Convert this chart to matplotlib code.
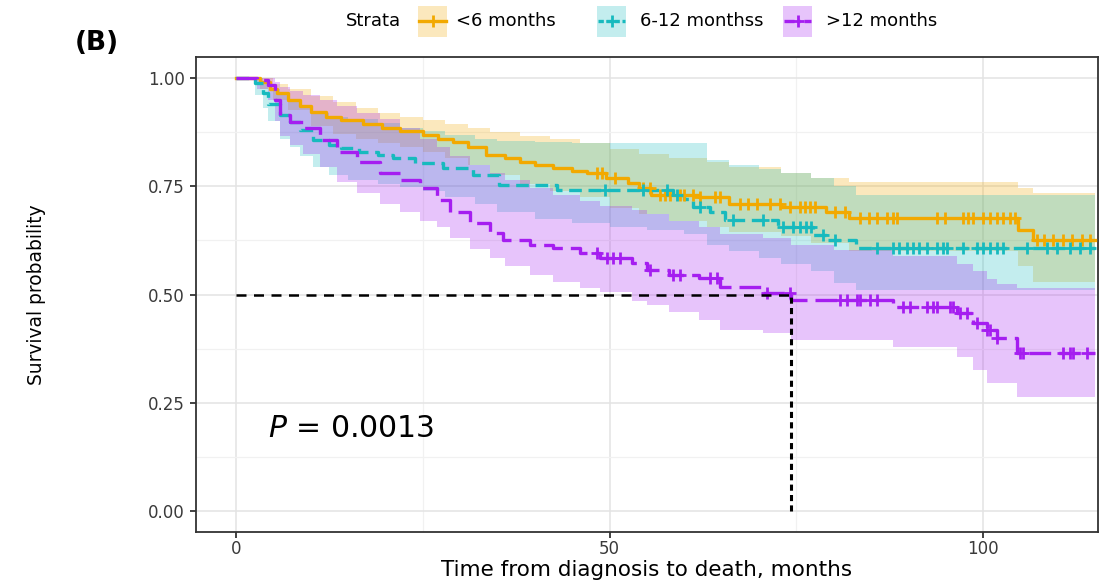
import numpy as np
import matplotlib
matplotlib.use("Agg")
import matplotlib.pyplot as plt
from matplotlib.patches import Rectangle
from matplotlib.lines import Line2D

plt.rcParams["font.family"] = ["DejaVu Sans"]
plt.rcParams["mathtext.fontset"] = "dejavusans"

# ---------------- data ----------------
strata_labels = ["<6 months", "6-12 monthss", ">12 months"]
t_end = 115.0

# <6 months
t_lt6 = [0, 3.2, 4.5, 5.5, 7, 8.5, 10, 12, 14, 17, 19.5, 22, 25, 27, 29, 31, 33.5, 36, 38,
         40, 42.5, 45, 47, 49.5, 52.5, 54, 55.5, 62, 66, 73, 79, 82, 104.7, 106.7]
s_lt6 = [1.0, 0.99, 0.975, 0.965, 0.95, 0.935, 0.922, 0.91, 0.903, 0.893, 0.885, 0.877, 0.868,
         0.86, 0.852, 0.84, 0.822, 0.815, 0.806, 0.80, 0.792, 0.785, 0.78, 0.77, 0.757, 0.746,
         0.73, 0.725, 0.71, 0.703, 0.69, 0.677, 0.649, 0.626]
band_t_lt6 = [0, 3.2, 5, 7, 10, 13, 16, 19, 22, 25, 28, 31, 34, 38, 42, 46, 50, 54, 58, 63,
              66, 73, 77, 82, 104.7, 106.7]
up_lt6 = [1.0, 1.0, 0.985, 0.975, 0.958, 0.945, 0.93, 0.92, 0.91, 0.903, 0.893, 0.884, 0.875,
          0.865, 0.858, 0.85, 0.835, 0.825, 0.815, 0.806, 0.795, 0.78, 0.769, 0.76, 0.746, 0.734]
lo_lt6 = [1.0, 0.975, 0.95, 0.925, 0.89, 0.87, 0.86, 0.85, 0.84, 0.83, 0.815, 0.80, 0.775,
          0.755, 0.74, 0.725, 0.70, 0.685, 0.67, 0.655, 0.645, 0.635, 0.62, 0.60, 0.565, 0.53]
cens_lt6 = [48.3, 49.0, 50.8, 54.5, 55.4, 56.8, 57.4, 58.1, 59.4, 60.0, 61.2, 62.1, 64.1,
            64.8, 67.5, 68.5, 69.7, 71.5, 72.8, 74.2, 75.5, 76.2, 76.8, 77.5, 80.2, 81.5,
            83.5, 84.7, 85.8, 87.1, 88.0, 88.5, 93.8, 94.9, 97.3, 98.0, 98.7, 100.0, 101.0,
            101.9, 102.7, 103.6, 104.3, 107.2, 108.2, 109.4, 110.7, 111.9, 113.3, 114.3]

# 6-12 months
t_612 = [0, 2.5, 3.6, 4.3, 5.9, 7.2, 8.6, 10.3, 12.5, 14, 16.5, 19, 21, 24, 27.7, 31.7,
         35.2, 43, 58.5, 60, 61.2, 63.5, 65.5, 72.5, 77.2, 79, 83]
s_612 = [1.0, 0.988, 0.965, 0.94, 0.915, 0.898, 0.88, 0.857, 0.845, 0.838, 0.829, 0.822,
         0.815, 0.804, 0.792, 0.776, 0.753, 0.741, 0.73, 0.72, 0.702, 0.69, 0.672, 0.656,
         0.637, 0.626, 0.607]
band_t_612 = [0, 2.5, 3.6, 4.3, 5.9, 7.2, 8.6, 10.3, 12.5, 15, 19, 22, 25, 28, 32, 35, 40,
              45, 50, 55, 60, 63, 66, 70, 73, 77, 80, 83]
up_612 = [1.0, 1.0, 0.99, 0.975, 0.96, 0.945, 0.935, 0.92, 0.91, 0.905, 0.895, 0.885, 0.878,
          0.868, 0.86, 0.855, 0.852, 0.85, 0.85, 0.85, 0.85, 0.81, 0.80, 0.79, 0.78, 0.77,
          0.75, 0.73]
lo_612 = [1.0, 0.96, 0.93, 0.90, 0.86, 0.84, 0.82, 0.795, 0.775, 0.765, 0.755, 0.748, 0.74,
          0.725, 0.71, 0.69, 0.675, 0.665, 0.655, 0.65, 0.64, 0.615, 0.60, 0.585, 0.57,
          0.555, 0.527, 0.51]
cens_612 = [49.4, 54.5, 57.7, 59.0, 62.1, 66.5, 70.5, 73.2, 74.5, 75.5, 76.3, 77.0, 78.6,
            80.2, 85.8, 87.9, 88.8, 89.8, 90.6, 91.5, 92.5, 93.8, 94.6, 95.2, 97.3, 99.2,
            100.0, 101.0, 101.9, 102.7, 105.9, 108.6, 109.9, 111.7, 113.0, 114.3]

# >12 months
t_gt12 = [0, 2.8, 4.3, 5.2, 5.9, 7.2, 9, 11.2, 13.5, 16.2, 19.3, 22, 24.6, 26.9, 28.6, 31.3,
          34, 35.7, 39.4, 42.4, 46, 48.7, 53, 55, 58, 62, 64.8, 70.5, 74.3, 88, 96.5, 98.7,
          100.5, 101.9, 104.5]
s_gt12 = [1.0, 0.995, 0.984, 0.949, 0.915, 0.898, 0.885, 0.857, 0.83, 0.806, 0.78, 0.764,
          0.746, 0.718, 0.69, 0.665, 0.642, 0.626, 0.614, 0.607, 0.596, 0.584, 0.573, 0.557,
          0.545, 0.538, 0.517, 0.503, 0.487, 0.471, 0.457, 0.434, 0.418, 0.40, 0.365]
band_t_gt12 = [0, 2.8, 4.3, 5.2, 5.9, 7.2, 9, 11.2, 13.5, 16.2, 19.3, 22, 24.6, 26.9, 28.6,
               31.3, 34, 36, 39.4, 42.4, 46, 48.7, 53, 55, 58, 62, 64.8, 70.5, 74.3, 80, 88,
               96.5, 98.7, 100.5, 101.9, 104.5]
up_gt12 = [1.0, 1.0, 1.0, 0.99, 0.98, 0.97, 0.96, 0.95, 0.935, 0.92, 0.905, 0.885, 0.86,
           0.84, 0.82, 0.80, 0.78, 0.765, 0.745, 0.73, 0.715, 0.705, 0.695, 0.685, 0.67,
           0.655, 0.64, 0.63, 0.614, 0.603, 0.59, 0.57, 0.555, 0.535, 0.525, 0.515]
lo_gt12 = [1.0, 0.975, 0.95, 0.90, 0.865, 0.845, 0.825, 0.795, 0.76, 0.735, 0.71, 0.69, 0.67,
           0.655, 0.63, 0.605, 0.585, 0.565, 0.545, 0.53, 0.515, 0.505, 0.485, 0.475, 0.46,
           0.44, 0.418, 0.41, 0.395, 0.395, 0.379, 0.356, 0.326, 0.296, 0.296, 0.263]
cens_gt12 = [48.3, 49.7, 50.5, 51.4, 55.4, 58.5, 59.4, 63.5, 64.4, 71.1, 74.2, 80.9, 81.8,
             83.1, 83.5, 84.9, 85.8, 89.3, 90.2, 92.5, 93.3, 93.8, 95.6, 96.0, 96.9, 97.8,
             99.2, 100.5, 100.9, 101.9, 104.9, 105.3, 110.7, 111.7, 112.0, 113.9]

median_time = 74.3
p_text = "0.0013"

# ---------------- styling ----------------
col_lt6, col_612, col_gt12 = "#F2A900", "#17BABE", "#A51EF0"
fill_alpha = 0.26

W, H = 1101, 585
fig = plt.figure(figsize=(W / 100, H / 100), dpi=100)
ax = fig.add_axes([196 / W, 1 - 532 / H, (1098 - 196) / W, (532 - 57) / H])

groups = [
    (t_lt6, s_lt6, band_t_lt6, up_lt6, lo_lt6, cens_lt6, col_lt6, "-"),
    (t_612, s_612, band_t_612, up_612, lo_612, cens_612, col_612, (0, (3.8, 2.0))),
    (t_gt12, s_gt12, band_t_gt12, up_gt12, lo_gt12, cens_gt12, col_gt12, (0, (6.5, 2.4))),
]

def extend(t, v):
    return np.append(np.asarray(t, float), t_end), np.append(np.asarray(v, float), v[-1])

for t, s, bt, up, lo, cens, col, ls in groups:
    bx, bu = extend(bt, up)
    _, bl = extend(bt, lo)
    ax.fill_between(bx, bl, bu, step="post", color=col, alpha=fill_alpha, lw=0, zorder=1)

for t, s, bt, up, lo, cens, col, ls in groups:
    sx, sy = extend(t, s)
    ax.step(sx, sy, where="post", color=col, lw=2.4, linestyle=ls, zorder=3)
    tt = np.asarray(t, float)
    ss = np.asarray(s, float)
    cy = ss[np.searchsorted(tt, cens, side="right") - 1]
    ax.plot(cens, cy, linestyle="none", marker="+", markersize=9, mew=2.0,
            color=col, zorder=4)

# median survival reference lines
ax.plot([0, median_time], [0.5, 0.5], color="black", lw=1.8, linestyle=(0, (4, 3)), zorder=5)
ax.plot([median_time, median_time], [0, 0.5], color="black", lw=2.2,
        linestyle=(0, (2, 1.4)), zorder=5)

ax.text(4.3, 0.19, r"$\mathit{P}$ = " + p_text, fontsize=21.5, ha="left", va="center",
        color="black")

ax.set_xlim(-5.36, 115.4)
ax.set_ylim(-0.0485, 1.0485)
ax.set_xticks([0, 50, 100])
ax.set_yticks([0, 0.25, 0.5, 0.75, 1.0])
ax.set_yticklabels(["0.00", "0.25", "0.50", "0.75", "1.00"])
ax.set_xticks([25, 75], minor=True)
ax.set_yticks([0.125, 0.375, 0.625, 0.875], minor=True)
ax.grid(True, which="major", color="#E3E3E3", lw=1.1, zorder=0)
ax.grid(True, which="minor", color="#F1F1F1", lw=0.9, zorder=0)
ax.set_axisbelow(True)
ax.tick_params(which="major", length=4, width=1.3, color="#333333",
               labelsize=12, labelcolor="#3A3A3A", pad=4)
ax.tick_params(axis="x", which="major", pad=2)
ax.tick_params(which="minor", length=0)
for sp in ax.spines.values():
    sp.set_color("#333333")
    sp.set_linewidth(1.3)

ax.set_xlabel("Time from diagnosis to death, months", fontsize=15.5)
ax.xaxis.set_label_coords(0.5, (532 - 559.5) / (532 - 57))
ax.set_ylabel("Survival probability", fontsize=13.4)
ax.yaxis.set_label_coords((46 - 196) / (1098 - 196), 0.5)

# panel tag
fig.text(75 / W, 1 - 43 / H, "(B)", fontsize=19, fontweight="bold", ha="left", va="center")

# legend row across the top
yc = 1 - 21 / H
fig.text(346 / W, yc, "Strata", fontsize=13, ha="left", va="center")
key_x = [418, 597, 783]
text_x = [456, 640, 826]
styles = [(col_lt6, "-"), (col_612, (0, (1.6, 0.8))), (col_gt12, (0, (3.0, 1.2, 0.6, 1.2)))]
for kx, tx, lab, (col, ls) in zip(key_x, text_x, strata_labels, styles):
    fig.add_artist(Rectangle((kx / W, 1 - 37 / H), 29 / W, 31 / H, transform=fig.transFigure,
                             facecolor=col, alpha=fill_alpha, lw=0))
    fig.add_artist(Line2D([(kx + 1) / W, (kx + 28) / W], [yc, yc], transform=fig.transFigure,
                          color=col, lw=2.4, linestyle=ls))
    fig.add_artist(Line2D([(kx + 14.5) / W], [yc], transform=fig.transFigure, color=col,
                          marker="+", markersize=9, mew=2.0, linestyle="none"))
    fig.text(tx / W, yc, lab, fontsize=13, ha="left", va="center")

fig.savefig("out.png", dpi=100)
